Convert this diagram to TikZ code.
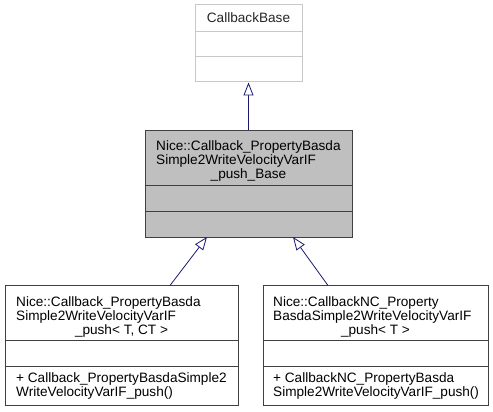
\documentclass[tikz,border=0pt]{standalone}
\usepackage{fontspec}
\setmainfont{Liberation Sans}
\usetikzlibrary{arrows.meta}
\definecolor{edgeblue}{HTML}{191970}
\definecolor{boxgray}{HTML}{BFBFBF}
\definecolor{darkline}{HTML}{404040}
\definecolor{lightline}{HTML}{C8C8C8}
\tikzset{
  classbox/.style={draw=darkline, line width=1pt, rectangle, inner sep=0pt},
  lightbox/.style={draw=lightline, line width=1pt, rectangle, inner sep=0pt, fill=white},
  txt/.style={inner sep=0pt, font=\fontsize{13.6}{14}\selectfont, text=black},
  inh/.style={draw=edgeblue, line width=0.8pt, -{Triangle[open, length=13pt, width=10pt, fill=white]}},
}
\begin{document}
\begin{tikzpicture}[x=1pt,y=-1pt]
\useasboundingbox (0,0) rectangle (493,412);
% top class
\node[lightbox, minimum width=107pt, minimum height=77pt] (tb) at (248.5,43.5) {};
\draw[lightline, line width=1pt] (tb.west |- 0,32) coordinate (tb1) -- (tb.east |- 0,32) coordinate (tb2);
\draw[lightline, line width=1pt] (tb.west |- 0,57) coordinate (tb3) -- (tb.east |- 0,57) coordinate (tb4);
\node[txt, anchor=base, text=black!85] (tbt) at (248.5,23) {CallbackBase};
% middle class
\node[classbox, fill=boxgray, minimum width=207pt, minimum height=107pt] (mb) at (248.5,183.5) {};
\draw[darkline, line width=1pt] (mb.west |- 0,185) coordinate (mb1) -- (mb.east |- 0,185) coordinate (mb2);
\draw[darkline, line width=1pt] (mb.west |- 0,211) coordinate (mb3) -- (mb.east |- 0,211) coordinate (mb4);
\node[txt, anchor=base west] (mbt1) at (156,150) {Nice::Callback\_PropertyBasda};
\node[txt, anchor=base west] (mbt2) at (156,164) {Simple2WriteVelocityVarIF};
\node[txt, anchor=base] (mbt3) at (248.5,178) {\_push\_Base};
% bottom left
\node[classbox, fill=white, minimum width=233pt, minimum height=120pt] (bl) at (121.5,345.5) {};
\draw[darkline, line width=1pt] (bl.west |- 0,340) coordinate (bl1) -- (bl.east |- 0,340) coordinate (bl2);
\draw[darkline, line width=1pt] (bl.west |- 0,366) coordinate (bl3) -- (bl.east |- 0,366) coordinate (bl4);
\node[txt, anchor=base west] (blt1) at (16,306) {Nice::Callback\_PropertyBasda};
\node[txt, anchor=base west] (blt2) at (16,320) {Simple2WriteVelocityVarIF};
\node[txt, anchor=base] (blt3) at (121.5,334) {\_push< T, CT >};
\node[txt, anchor=base west] (blm1) at (16,382) {+ Callback\_PropertyBasdaSimple2};
\node[txt, anchor=base west] (blm2) at (16,396) {WriteVelocityVarIF\_push()};
% bottom right
\node[classbox, fill=white, minimum width=225pt, minimum height=120pt] (br) at (375.5,345.5) {};
\draw[darkline, line width=1pt] (br.west |- 0,340) coordinate (br1) -- (br.east |- 0,340) coordinate (br2);
\draw[darkline, line width=1pt] (br.west |- 0,366) coordinate (br3) -- (br.east |- 0,366) coordinate (br4);
\node[txt, anchor=base west] (brt1) at (273,306) {Nice::CallbackNC\_Property};
\node[txt, anchor=base west] (brt2) at (273,320) {BasdaSimple2WriteVelocityVarIF};
\node[txt, anchor=base] (brt3) at (375.5,334) {\_push< T >};
\node[txt, anchor=base west] (brm1) at (273,382) {+ CallbackNC\_PropertyBasda};
\node[txt, anchor=base west] (brm2) at (273,396) {Simple2WriteVelocityVarIF\_push()};
% edges
\draw[inh] (mb.north) -- (tb.south);
\coordinate (blstart) at (170,285.5);
\coordinate (mbl) at (207,237);
\coordinate (brstart) at (328,285.5);
\coordinate (mbr) at (293,237);
\draw[inh] (blstart) -- (mbl);
\draw[inh] (brstart) -- (mbr);
\end{tikzpicture}
\end{document}
